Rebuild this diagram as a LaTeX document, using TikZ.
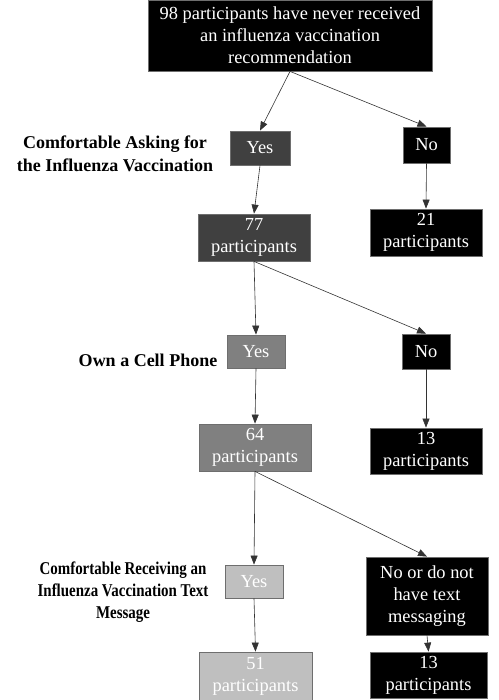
\documentclass[tikz,border=0pt]{standalone}
\usepackage{fontspec}
\setmainfont{Liberation Serif}
\usepackage{tikz}
\usetikzlibrary{positioning,arrows.meta,calc}
\definecolor{yesdark}{RGB}{64,64,64}
\definecolor{yesmid}{RGB}{128,128,128}
\definecolor{yeslight}{RGB}{191,191,191}
\definecolor{edgegray}{RGB}{110,110,110}

\begin{document}
\begin{tikzpicture}[x=1pt, y=-1pt,
    box/.style={draw=edgegray, line width=0.8pt, text=white, align=center, inner sep=1pt,
        font=\fontsize{18.4}{22}\selectfont},
    question/.style={align=center, font=\fontsize{18}{22.5}\selectfont\bfseries},
    narrowq/.style={question, font=\fontsize{18}{22}\selectfont\bfseries\addfontfeature{FakeStretch=0.83}},
    arr/.style={-{Triangle[length=9pt, width=7pt]}, line width=0.6pt, draw=black!80}]
    \useasboundingbox (0,0) rectangle (498,700);

    % Start box
    \node[box, fill=black, minimum width=284pt, minimum height=71pt] (start) at (290,35.5)
        {98 participants have never received\\an influenza vaccination\\recommendation};

    % First question
    \node[question] (askq) at (115,154) {Comfortable Asking for\\the Influenza Vaccination};
    \node[box, fill=yesdark, minimum width=60pt, minimum height=34pt] (askyes) at (260,148) {Yes};
    \node[box, fill=black, minimum width=47pt, minimum height=36pt] (askno) at (426.5,145) {No};
    \node[box, fill=yesdark, minimum width=112pt, minimum height=47pt] (n77) at (254,237.5) {77\\participants};
    \node[box, fill=black, minimum width=112pt, minimum height=47pt] (n21) at (426,232.5) {21\\participants};

    % Second question
    \node[question] (phoneq) at (148,360) {Own a Cell Phone};
    \node[box, fill=yesmid, minimum width=58pt, minimum height=33pt] (phoneyes) at (256,351.5) {Yes};
    \node[box, fill=black, minimum width=48pt, minimum height=35pt] (phoneno) at (426,351.5) {No};
    \node[box, fill=yesmid, minimum width=112pt, minimum height=47pt] (n64) at (255,447.5) {64\\participants};
    \node[box, fill=black, minimum width=112pt, minimum height=46pt] (n13a) at (426,451) {13\\participants};

    % Third question
    \node[narrowq] (textq) at (123,592) {Comfortable Receiving an\\Influenza Vaccination Text\\Message};
    \node[box, fill=yeslight, minimum width=58pt, minimum height=33pt] (textyes) at (254,581.5) {Yes};
    \node[box, fill=black, minimum width=122pt, minimum height=78pt] (textno) at (427,596)
        {No or do not\\have text\\messaging};
    \node[box, fill=yeslight, minimum width=113pt, minimum height=48pt] (n51) at (255.5,676) {51\\participants};
    \node[box, fill=black, minimum width=117pt, minimum height=46pt] (n13b) at (428.5,675) {13\\participants};

    % Arrows
    \foreach \from/\to in {start/askyes, start/askno, askyes/n77, askno/n21,
        n77/phoneyes, n77/phoneno, phoneyes/n64, phoneno/n13a,
        n64/textyes, n64/textno, textyes/n51, textno/n13b} {
        \draw[arr] (\from.south) -- (\to.north);
    }
\end{tikzpicture}
\end{document}
